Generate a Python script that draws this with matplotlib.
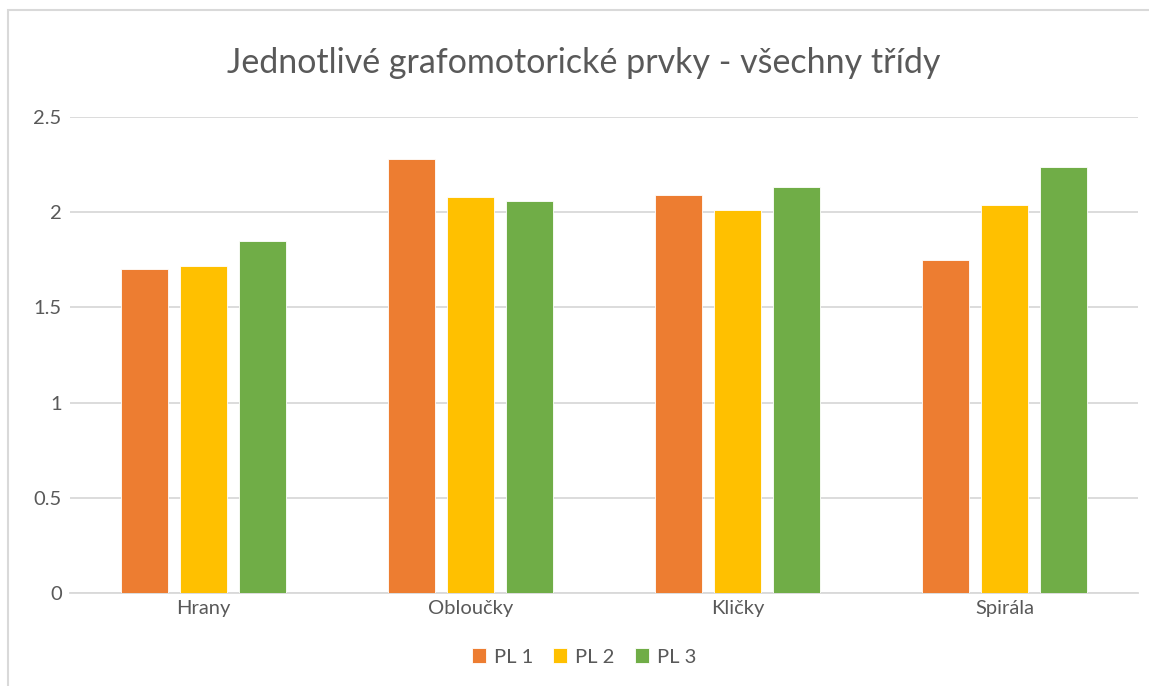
import matplotlib
matplotlib.use("Agg")
import matplotlib.pyplot as plt
import numpy as np
from matplotlib.patches import Rectangle

categories = ["Hrany", "Obloučky", "Kličky", "Spirála"]
series_names = ["PL 1", "PL 2", "PL 3"]
pl1 = [1.70, 2.28, 2.09, 1.75]
pl2 = [1.72, 2.08, 2.01, 2.04]
pl3 = [1.85, 2.06, 2.13, 2.24]
yticks = [0, 0.5, 1, 1.5, 2, 2.5]
ytick_labels = ["0", "0.5", "1", "1.5", "2", "2.5"]
title = "Jednotlivé grafomotorické prvky - všechny třídy"

colors = ["#ED7D31", "#FFC000", "#70AD47"]
text_color = "#595959"
plt.rcParams['font.family'] = ['Lato', 'DejaVu Sans']

W, H = 1149, 686
fig = plt.figure(figsize=(W / 100, H / 100), dpi=100)
fig.patch.set_facecolor("white")

# chart border
fig.add_artist(Rectangle((8 / W, -0.01), (W + 20) / W, (H - 10) / H + 0.01,
                         transform=fig.transFigure, fill=False,
                         edgecolor="#D9D9D9", linewidth=1.5))

ax = fig.add_axes([70 / W, 1 - 593 / H, (1138 - 70) / W, (593 - 117) / H])
x = np.arange(len(categories))
bw = 0.173
step = 0.221
for i, (vals, name) in enumerate(zip([pl1, pl2, pl3], series_names)):
    ax.bar(x + (i - 1) * step, vals, width=bw, color=colors[i], label=name,
           edgecolor="white", linewidth=0.6, zorder=3)

ax.set_xlim(-0.5, len(categories) - 0.5)
ax.set_ylim(0, 2.5)
ax.set_yticks(yticks)
ax.set_yticklabels(ytick_labels)
ax.set_xticks(x)
ax.set_xticklabels(categories)
ax.grid(axis="y", color="#D9D9D9", linewidth=1.3, zorder=0)
for s in ["top", "right", "left"]:
    ax.spines[s].set_visible(False)
ax.spines["bottom"].set_color("#D9D9D9")
ax.spines["bottom"].set_linewidth(1.3)
ax.tick_params(axis="both", length=0, colors=text_color, labelsize=14.5)
ax.tick_params(axis="y", pad=6)
ax.tick_params(axis="x", pad=5)

fig.text(584 / W, 1 - 63 / H, title, ha="center", va="center",
         fontsize=24.5, color=text_color)

leg = fig.legend(loc="center", bbox_to_anchor=(584 / W, 1 - 657 / H), ncol=3,
                 frameon=False, fontsize=14.5, handlelength=0.7, handleheight=0.7,
                 handletextpad=0.4, columnspacing=1.0)
for t in leg.get_texts():
    t.set_color(text_color)

fig.savefig("out.png", dpi=100, facecolor="white")
